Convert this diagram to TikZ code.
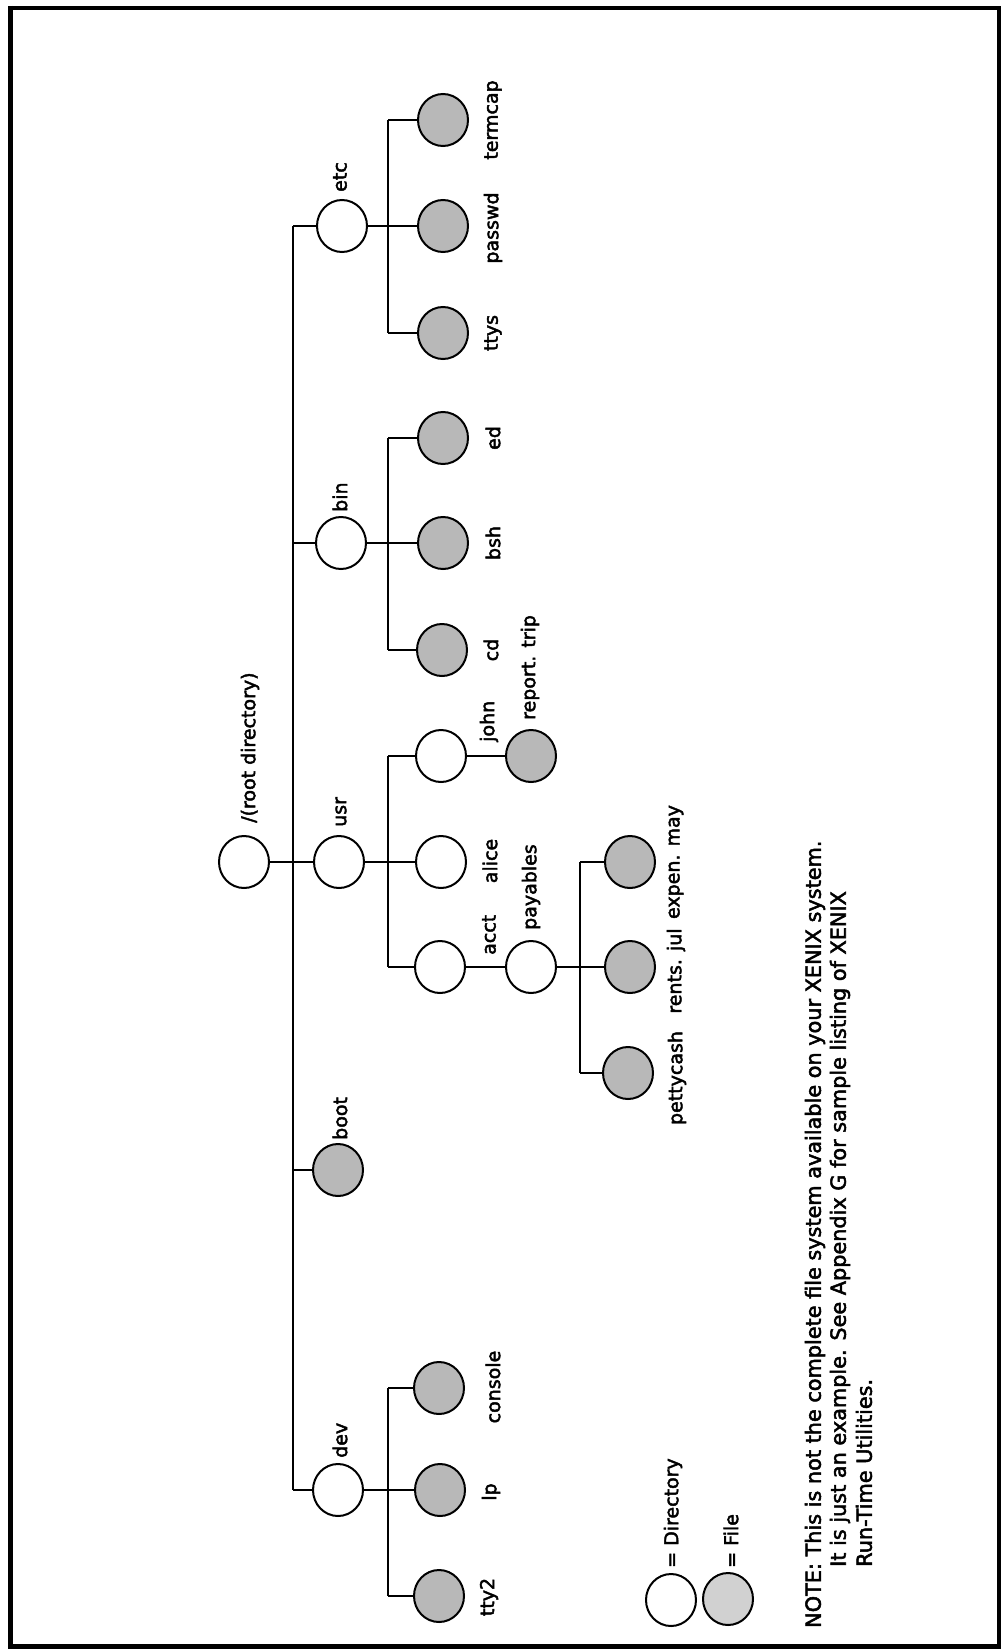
\documentclass[tikz,border=0pt]{standalone}
\usepackage{fontspec}
\setmainfont{DejaVu Sans}[RawFeature={embolden=2.4}]
\usetikzlibrary{shapes.geometric}
\begin{document}
\begin{tikzpicture}[x=1pt,y=-1pt,
  dirnode/.style={ellipse,draw=black,line width=2pt,fill=white,minimum width=50pt,minimum height=52pt,inner sep=0pt},
  filenode/.style={dirnode,fill=black!28},
  lbl/.style={rotate=90,inner sep=0pt,font=\fontsize{19}{22}\selectfont},
  dlbl/.style={lbl,anchor=west},
  link/.style={line width=2.4pt},
  bar/.style={line width=1.6pt},
  notetext/.style={rotate=90,inner sep=0pt,anchor=west,font=\fontsize{20.8}{24}\selectfont}]
\useasboundingbox (0,0) rectangle (1004,1651);
% frame
\draw[line width=3.5pt] (10,8) rectangle (999,1646);
\draw[line width=5pt] (10,6) -- (10,1646) -- (1001,1646);
% helper x positions
\coordinate (trunk) at (293,0);
\coordinate (subbar) at (388,0);
\coordinate (paybar) at (580,0);
% nodes
\node[dirnode] (root) at (244,862) {};
\node[dirnode] (etc) at (342,226) {};
\node[dirnode] (bin) at (341,543) {};
\node[dirnode] (usr) at (339,862) {};
\node[filenode] (boot) at (338,1170) {};
\node[dirnode] (dev) at (338,1490) {};
\node[filenode] (termcap) at (443,120) {};
\node[filenode] (passwd) at (443,226) {};
\node[filenode] (ttys) at (443,333) {};
\node[filenode] (ed) at (443,438) {};
\node[filenode] (bsh) at (443,543) {};
\node[filenode] (cd) at (442,650) {};
\node[dirnode] (john) at (441,756) {};
\node[dirnode] (alice) at (441,862) {};
\node[dirnode] (acct) at (440,967) {};
\node[filenode] (report) at (531,756) {};
\node[dirnode] (payables) at (531,967) {};
\node[filenode] (may) at (630,862) {};
\node[filenode] (rents) at (630,967) {};
\node[filenode] (petty) at (628,1073) {};
\node[filenode] (console) at (439,1388) {};
\node[filenode] (lp) at (440,1490) {};
\node[filenode] (tty) at (439,1596) {};
% connectors
\draw[bar] (etc.west -| trunk) -- (dev.west -| trunk);
\draw[link] (etc.west) -- (etc.west -| trunk);
\draw[link] (bin.west) -- (bin.west -| trunk);
\draw[link] (boot.west) -- (boot.west -| trunk);
\draw[link] (dev.west) -- (dev.west -| trunk);
\draw[link] (root.east) -- (usr.west);
\draw[bar] (termcap.west -| subbar) -- (ttys.west -| subbar);
\draw[link] (termcap.west -| subbar) -- (termcap.west);
\draw[link] (ttys.west -| subbar) -- (ttys.west);
\draw[link] (etc.east) -- (passwd.west);
\draw[bar] (ed.west -| subbar) -- (cd.west -| subbar);
\draw[link] (ed.west -| subbar) -- (ed.west);
\draw[link] (cd.west -| subbar) -- (cd.west);
\draw[link] (bin.east) -- (bsh.west);
\draw[bar] (john.west -| subbar) -- (acct.west -| subbar);
\draw[link] (john.west -| subbar) -- (john.west);
\draw[link] (acct.west -| subbar) -- (acct.west);
\draw[link] (usr.east) -- (alice.west);
\draw[link] (john.east) -- (report.west);
\draw[link] (acct.east) -- (payables.west);
\draw[bar] (may.west -| paybar) -- (petty.west -| paybar);
\draw[link] (may.west -| paybar) -- (may.west);
\draw[link] (petty.west -| paybar) -- (petty.west);
\draw[link] (payables.east) -- (rents.west);
\draw[bar] (console.west -| subbar) -- (tty.west -| subbar);
\draw[link] (console.west -| subbar) -- (console.west);
\draw[link] (tty.west -| subbar) -- (tty.west);
\draw[link] (dev.east) -- (lp.west);
% labels
\node[dlbl] (lroot) at (250,823) {/(root directory)};
\node[dlbl] (letc) at (340,192) {etc};
\node[dlbl] (lbin) at (340,512) {bin};
\node[dlbl] (lusr) at (341,827) {usr};
\node[dlbl] (lboot) at (340,1140) {boot};
\node[dlbl] (ldev) at (340,1458) {dev};
\node[lbl] (ltermcap) at (493,120) {termcap};
\node[lbl] (lpasswd) at (493,228) {passwd};
\node[lbl] (lttys) at (493,333) {ttys};
\node[lbl] (led) at (493,438) {ed};
\node[lbl] (lbsh) at (493,543) {bsh};
\node[lbl] (lcd) at (491,650) {cd};
\node[dlbl] (ljohn) at (489,742) {john};
\node[lbl] (lalice) at (490,861) {alice};
\node[dlbl] (lacct) at (489,955) {acct};
\node[dlbl] (lreport) at (530,720) {report. trip};
\node[dlbl] (lpayables) at (531,930) {payables};
\node[lbl] (lmay) at (676,862) {expen. may};
\node[lbl] (lrents) at (676,971) {rents. jul};
\node[lbl] (lpetty) at (677,1078) {pettycash};
\node[lbl] (lconsole) at (493,1387) {console};
\node[lbl] (llp) at (491,1492) {lp};
\node[lbl] (ltty) at (489,1597) {tty2};
% legend
\node[dirnode] (legdir) at (671,1600) {};
\node[dirnode,fill=black!18] (legfile) at (728,1599) {};
\node[dlbl] (llegdir) at (673,1568) {= Directory};
\node[dlbl] (llegfile) at (731,1568) {= File};
% note
\node[notetext] (note1) at (815,1628) {NOTE: This is not the complete file system available on your XENIX system.};
\node[notetext] (note2) at (840,1567) {It is just an example. See Appendix G for sample listing of XENIX};
\node[notetext] (note3) at (864,1567) {Run-Time Utilities.};
\end{tikzpicture}
\end{document}
